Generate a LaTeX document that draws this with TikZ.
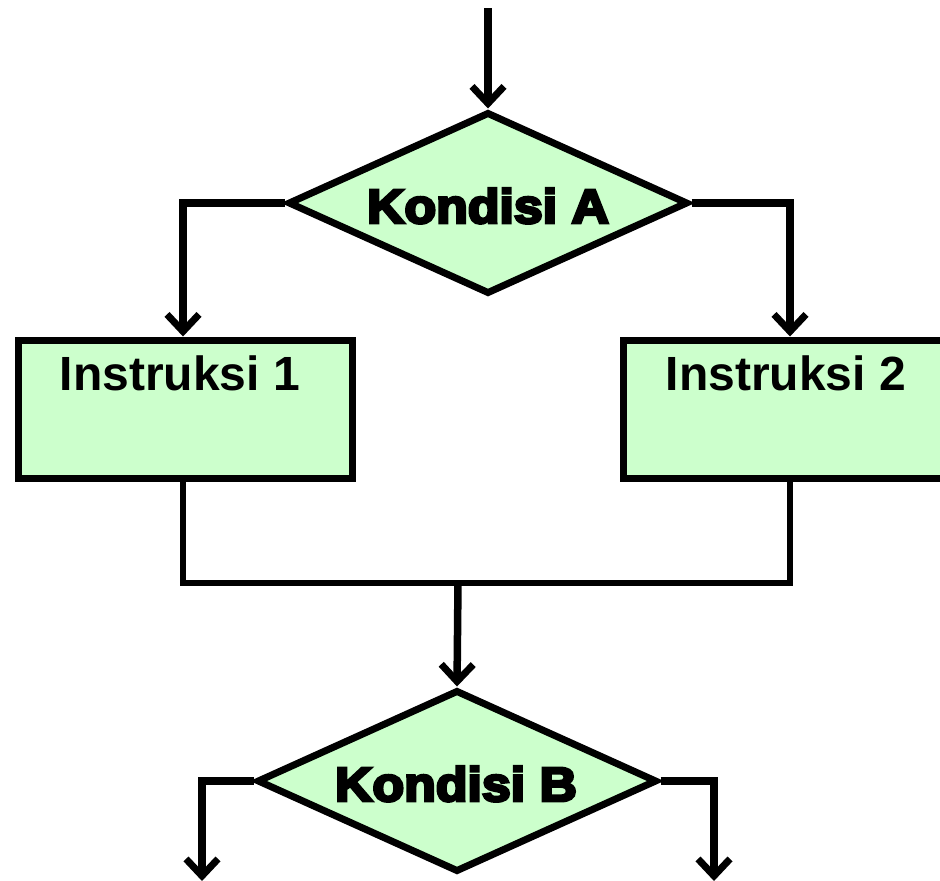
\documentclass[tikz,border=0pt]{standalone}
\usepackage{fontspec}
\setmainfont{Liberation Sans}
\newfontfamily\heavyfont[FakeBold=6,FakeStretch=1.08]{Liberation Sans Bold}
\usetikzlibrary{shapes.geometric,arrows.meta}
\definecolor{boxgreen}{HTML}{CCFFCC}
\begin{document}
\begin{tikzpicture}[x=1pt,y=-1pt,
  flow/.style={line width=7.5pt,line join=miter},
  thinflow/.style={line width=6pt,line join=miter},
  tip/.style={-{Straight Barb[length=17pt,width=32pt,line width=7pt]}},
  decision/.style={diamond,draw,fill=boxgreen,line width=7pt,inner sep=0pt,
    minimum width=400pt,minimum height=182pt},
  stepbox/.style={rectangle,draw,fill=boxgreen,line width=7pt,inner sep=0pt,
    minimum width=334pt,minimum height=138pt},
  steptext/.style={font=\bfseries\fontsize{48}{48}\selectfont,anchor=base,inner sep=0pt},
  condtext/.style={font=\heavyfont\fontsize{48}{48}\selectfont,anchor=base,inner sep=0pt}]
\useasboundingbox (0,0) rectangle (940,881);

% shapes
\node[decision] (ka) at (488,203) {};
\node[condtext] (kat) at (488,223) {Kondisi A};
\node[stepbox] (s1) at (185,409) {};
\node[steptext] (s1t) at (180,390) {Instruksi 1};
\node[stepbox] (s2) at (790,409) {};
\node[steptext] (s2t) at (786,390) {Instruksi 2};
\node[decision] (kb) at (457,781) {};
\node[condtext] (kbt) at (456,801) {Kondisi B};

% free ends and junctions
\coordinate (start) at (488,8);
\coordinate (la) at (183,203);
\coordinate (ra) at (790,203);
\coordinate (join) at (458,583);
\coordinate (lb) at (202,781);
\coordinate (rb) at (714,781);
\coordinate (lbend) at (202,881);
\coordinate (rbend) at (714,881);

% connectors
\draw[flow,tip] (start) -- (ka.north);
\draw[flow,tip] (ka.west) -- (la) -- (la |- s1.north);
\draw[flow,tip] (ka.east) -- (ra) -- (ra |- s2.north);
\draw[thinflow] (s1.south -| la) -- (la |- join) -- (ra |- join) -- (s2.south -| ra);
\draw[flow,tip] (join) -- (kb.north);
\draw[flow,tip] (kb.west) -- (lb) -- (lbend);
\draw[flow,tip] (kb.east) -- (rb) -- (rbend);
\end{tikzpicture}
\end{document}
